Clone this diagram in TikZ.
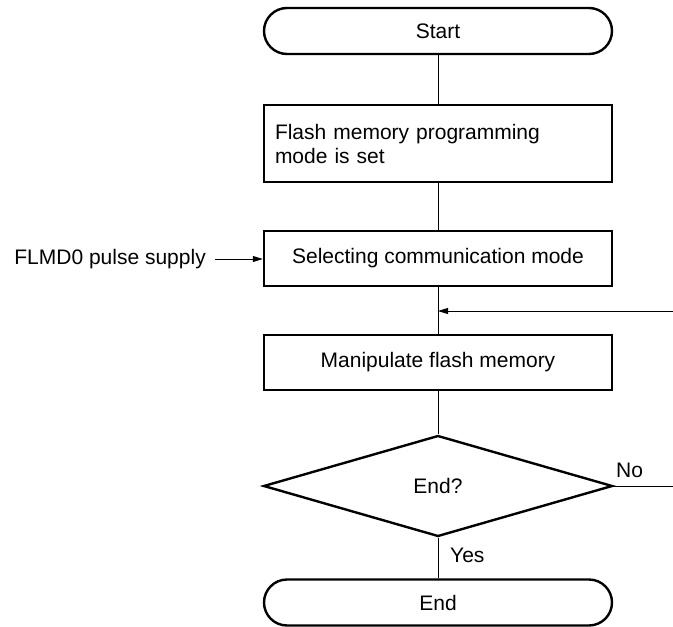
\documentclass[tikz,border=0pt]{standalone}
\usepackage{fontspec}
\setmainfont{Liberation Sans}
\usetikzlibrary{shapes.geometric,arrows.meta}
\begin{document}
\begin{tikzpicture}[x=1pt,y=-1pt,
  every node/.style={font=\fontsize{21}{24}\selectfont},
  term/.style={draw,line width=2.4pt,minimum width=348pt,minimum height=46pt,rounded corners=23pt,inner sep=0pt},
  procbox/.style={draw,line width=2.4pt,minimum width=348pt,inner sep=0pt},
  decide/.style={draw,shape=diamond,line width=2.4pt,aspect=3.4,minimum width=349pt,minimum height=101pt,inner sep=0pt},
  flow/.style={line width=1pt},
  thinflow/.style={line width=0.8pt},
  arr/.style={-{Triangle[length=10pt,width=6pt]}}
]
\useasboundingbox (0,0) rectangle (673,627);
\node[term] (start) at (438,31) {Start};
\node[procbox,minimum height=77pt,text width=326pt,align=left] (set) at (438,143.5)
  {Flash memory programming\\mode is set};
\node[procbox,minimum height=55pt] (sel) at (438,258.5) {Selecting communication mode};
\node[procbox,minimum height=55pt] (man) at (438,362.5) {Manipulate flash memory};
\node[decide] (endq) at (438,486) {End?};
\node[term] (fin) at (438,602.5) {End};
\node[anchor=east,inner sep=0pt] (flmd) at (206,259) {FLMD0 pulse supply};
\coordinate (flmdstart) at (215,259);
\coordinate (rin) at (673,311);
\coordinate (merge) at (438,311);
\coordinate (noend) at (673,486);
\node[anchor=south west,inner sep=0pt] (nolbl) at (616,478) {No};
\node[anchor=west,inner sep=0pt] (yeslbl) at (450,555) {Yes};

\draw[flow] (start) -- (set);
\draw[flow] (set) -- (sel);
\draw[flow] (sel) -- (man);
\draw[flow] (man) -- (endq);
\draw[flow] (endq) -- (fin);
\draw[thinflow,arr] (flmdstart) -- (flmdstart -| sel.west);
\draw[thinflow,arr] (rin) -- (merge);
\draw[thinflow] (endq.east) -- (noend);
\end{tikzpicture}
\end{document}
